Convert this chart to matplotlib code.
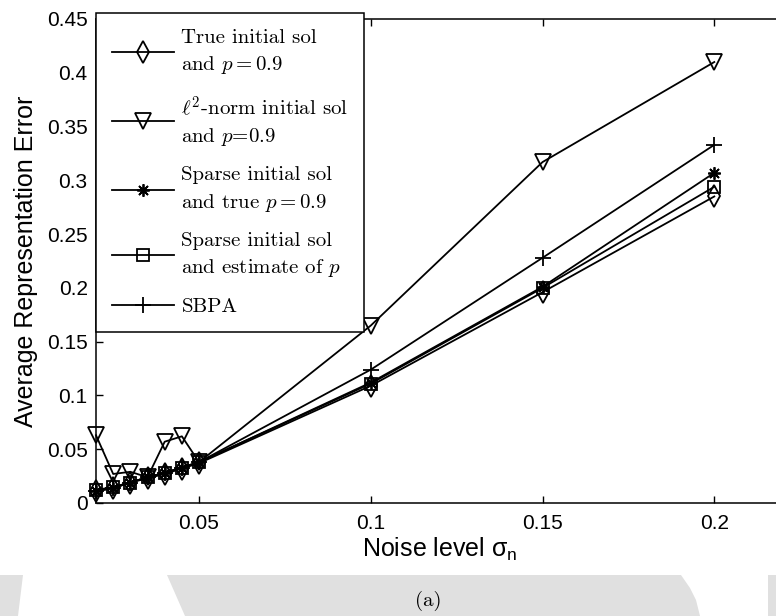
import matplotlib
matplotlib.use("Agg")
import matplotlib.pyplot as plt
from matplotlib.patches import Polygon
from matplotlib.ticker import FuncFormatter, MultipleLocator

# noise levels and errors
noise = [0.02, 0.025, 0.03, 0.035, 0.04, 0.045, 0.05, 0.1, 0.15, 0.2]
true_init = [0.011, 0.014, 0.019, 0.023, 0.027, 0.032, 0.037, 0.109, 0.196, 0.285]
l2_init = [0.063, 0.027, 0.029, 0.024, 0.057, 0.062, 0.038, 0.165, 0.317, 0.410]
sparse_true_p = [0.011, 0.014, 0.019, 0.024, 0.028, 0.033, 0.038, 0.112, 0.201, 0.307]
sparse_est_p = [0.012, 0.015, 0.019, 0.024, 0.028, 0.033, 0.038, 0.111, 0.200, 0.294]
sbpa = [0.011, 0.014, 0.019, 0.024, 0.028, 0.033, 0.038, 0.124, 0.228, 0.333]

labels = [
    "True initial sol\nand $p = 0.9$",
    "$\\ell^2$-norm initial sol\nand $p$=0.9",
    "Sparse initial sol\nand true $p = 0.9$",
    "Sparse initial sol\nand estimate of $p$",
    "SBPA",
]

W, H = 776, 616
fig = plt.figure(figsize=(W / 100, H / 100), dpi=100)
plt.rcParams['font.family'] = ['Liberation Sans', 'DejaVu Sans']

# grey watermark band under the figure
grey = '#e0e0e0'
def px(pts):
    return [(x / W, 1 - y / H) for x, y in pts]
for poly in [
    [(0, 575), (23, 575), (18, 616), (0, 616)],
    [(167, 575), (681, 575), (690, 588), (696, 600), (700, 616), (185, 616)],
    [(768, 575), (776, 575), (776, 616), (768, 616)],
]:
    fig.patches.append(Polygon(px(poly), closed=True, transform=fig.transFigure,
                               facecolor=grey, edgecolor='none', zorder=0))

ax = fig.add_axes([96 / W, 1 - 503 / H, (783 - 96) / W, (503 - 19) / H])

lw = 1.3
kw = dict(color='k', lw=lw, mew=1.3, clip_on=False)
ax.plot(noise, true_init, marker='d', ms=11, mfc='none', label=labels[0], **kw)
ax.plot(noise, l2_init, marker='v', ms=11, mfc='none', label=labels[1], **kw)
ax.plot(noise, sparse_true_p, marker=(8, 2, 0), ms=9, label=labels[2], **kw)
ax.plot(noise, sparse_est_p, marker='s', ms=8, mfc='none', label=labels[3], **kw)
ax.plot(noise, sbpa, marker='+', ms=12, label=labels[4], **kw)

ax.set_xlim(0.02, 0.22)
ax.set_ylim(0, 0.45)
ax.xaxis.set_major_locator(MultipleLocator(0.05))
ax.yaxis.set_major_locator(MultipleLocator(0.05))
fmt = FuncFormatter(lambda v, p: '%g' % round(v, 4))
ax.xaxis.set_major_formatter(fmt)
ax.yaxis.set_major_formatter(fmt)
ax.tick_params(direction='in', length=5, width=1, labelsize=15, top=True, right=False)
ax.tick_params(axis='x', pad=8)
ax.tick_params(axis='y', pad=6)
for s in ax.spines.values():
    s.set_linewidth(1.1)

ax.set_xlabel('Noise level σ$_\\mathregular{n}$', fontsize=18, labelpad=2)
ax.set_ylabel('Average Representation Error', fontsize=18, labelpad=6)

leg = ax.legend(loc='upper left', bbox_to_anchor=(96 / W, 1 - 13 / H),
                bbox_transform=fig.transFigure, borderaxespad=0,
                prop={'family': 'cmr10', 'size': 15, 'math_fontfamily': 'cm'},
                handlelength=3.0, handletextpad=0.35, borderpad=0.75,
                labelspacing=0.88, fancybox=False, framealpha=1, edgecolor='k')
leg.get_frame().set_linewidth(1.1)
for t in leg.get_texts():
    t.set_linespacing(1.45)
leg.set_zorder(5)

fig.text(428 / W, 1 - 601 / H, '(a)', ha='center', va='center', fontsize=15,
         family='cmr10')

fig.savefig('out.png', dpi=100)
